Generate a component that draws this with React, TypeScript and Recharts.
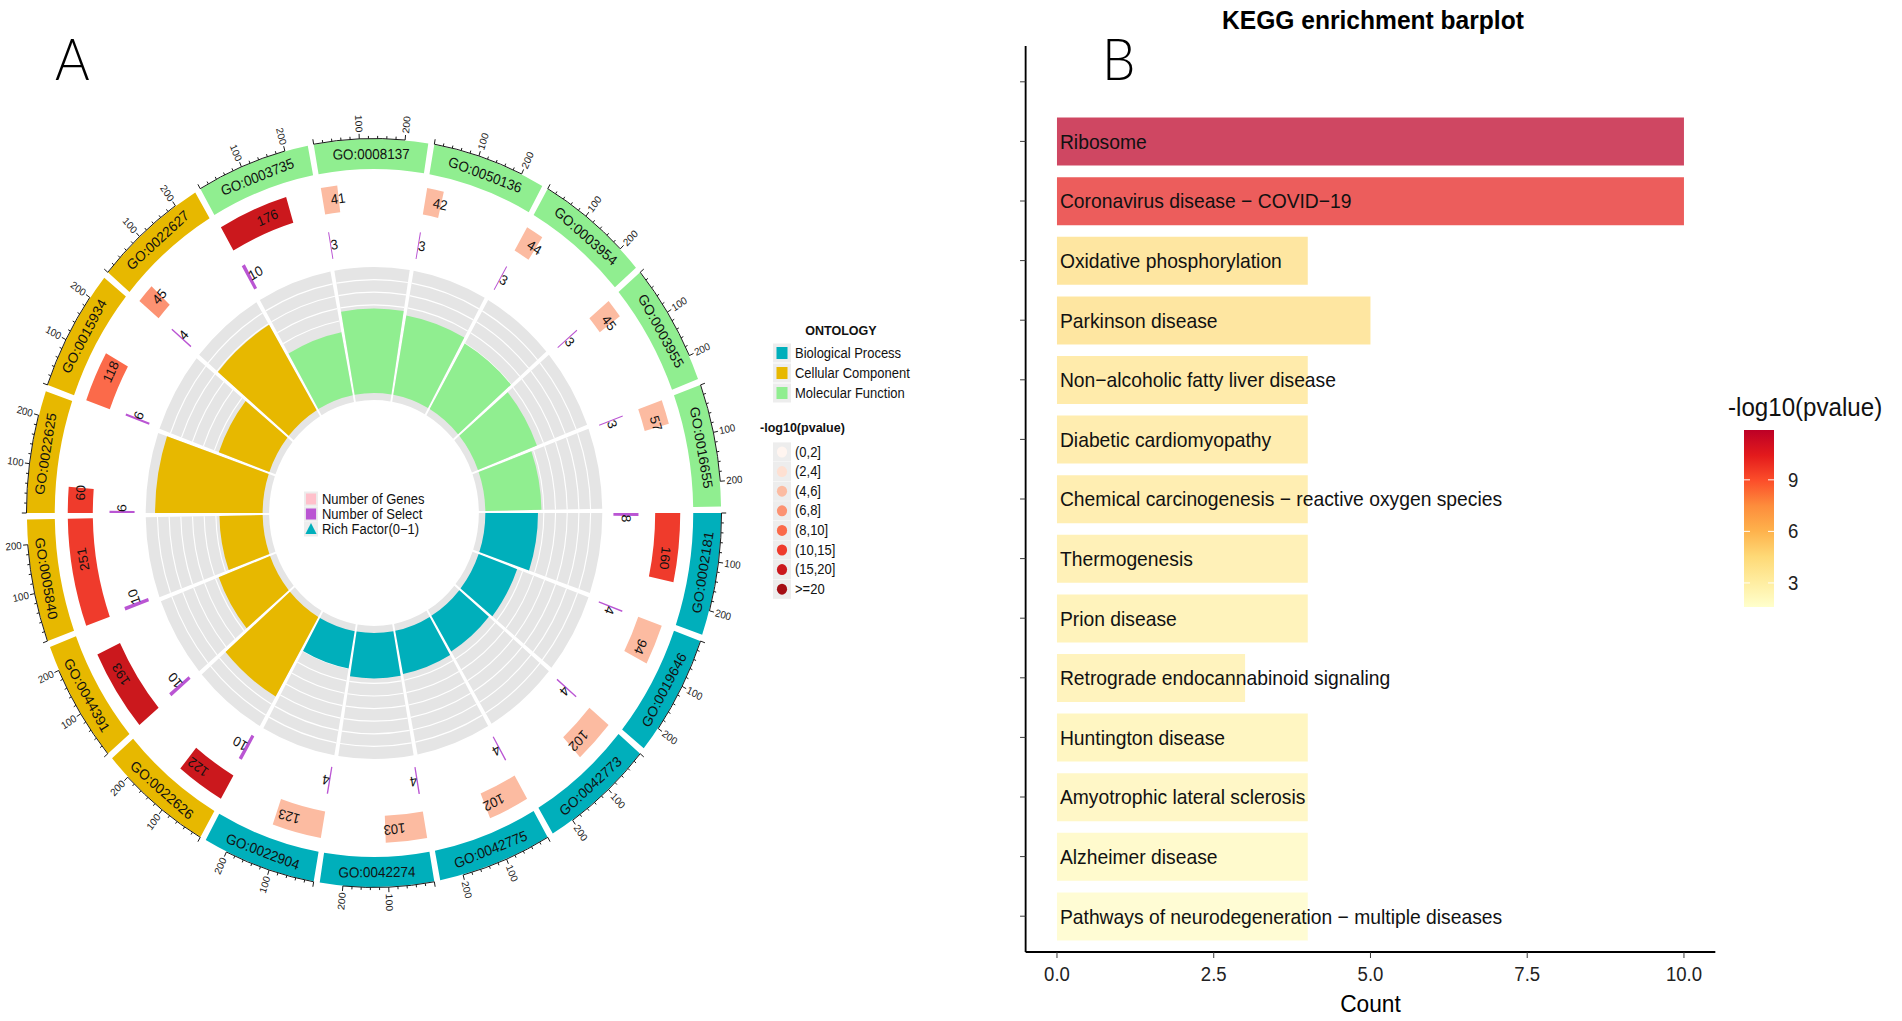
import React from "react";
import {
  Bar,
  BarChart,
  Cell,
  Label,
  LabelList,
  Pie,
  PieChart,
  XAxis,
  YAxis,
} from "recharts";

// the whole figure is squeezed horizontally, so draw wide and scale x
const SX = 0.928;
const px = (x: number) => x / SX;
const FONT = "'Liberation Sans', Arial, Helvetica, sans-serif";

// ---------- panel A: GO circle, sectors clockwise from 3 o'clock ----------
const goIds = [
  "GO:0002181", "GO:0019646", "GO:0042773", "GO:0042775", "GO:0042274", "GO:0022904",
  "GO:0022626", "GO:0044391", "GO:0005840", "GO:0022625", "GO:0015934", "GO:0022627",
  "GO:0003735", "GO:0008137", "GO:0050136", "GO:0003954", "GO:0003955", "GO:0016655",
];
const goOntology = [
  "BP", "BP", "BP", "BP", "BP", "BP",
  "CC", "CC", "CC", "CC", "CC", "CC",
  "MF", "MF", "MF", "MF", "MF", "MF",
];
const geneCounts = [160, 94, 102, 102, 103, 123, 122, 193, 251, 60, 118, 45, 176, 41, 42, 44, 45, 57];
const selectCounts = [8, 4, 4, 4, 4, 4, 10, 10, 10, 6, 6, 4, 10, 3, 3, 3, 3, 3];
const richFactor = [0.45, 0.35, 0.33, 0.35, 0.36, 0.3, 0.73, 0.47, 0.37, 0.92, 0.46, 0.79, 0.51, 0.67, 0.64, 0.6, 0.54, 0.48];
const goPClass = [
  "(10,15]", "(4,6]", "(4,6]", "(4,6]", "(4,6]", "(4,6]",
  "(15,20]", "(15,20]", "(10,15]", "(10,15]", "(8,10]", "(6,8]",
  "(15,20]", "(4,6]", "(4,6]", "(4,6]", "(4,6]", "(4,6]",
];

const ontologyKeys = ["BP", "CC", "MF"];
const ontologyLabels = ["Biological Process", "Cellular Component", "Molecular Function"];
const ontologyColors = ["#00AFBB", "#E7B800", "#90EE90"];
const pClassLabels = ["(0,2]", "(2,4]", "(4,6]", "(6,8]", "(8,10]", "(10,15]", "(15,20]", ">=20"];
const pClassColors = ["#FFF5F0", "#FEE0D2", "#FCBBA1", "#FC9272", "#FB6A4A", "#EF3B2C", "#CB181D", "#A50F15"];
const centerLegend = ["Number of Genes", "Number of Select", "Rich Factor(0\u22121)"];

const axisMax = 251; // every sector spans 0..251 genes
const axisTicks = [0, 20, 40, 60, 80, 100, 120, 140, 160, 180, 200];
const gridSteps = [1, 2, 3, 4, 5, 6, 7, 8, 9];

// ---------- panel B: KEGG barplot ----------
const keggTerms = [
  "",
  "Ribosome",
  "Coronavirus disease \u2212 COVID\u221219",
  "Oxidative phosphorylation",
  "Parkinson disease",
  "Non\u2212alcoholic fatty liver disease",
  "Diabetic cardiomyopathy",
  "Chemical carcinogenesis \u2212 reactive oxygen species",
  "Thermogenesis",
  "Prion disease",
  "Retrograde endocannabinoid signaling",
  "Huntington disease",
  "Amyotrophic lateral sclerosis",
  "Alzheimer disease",
  "Pathways of neurodegeneration \u2212 multiple diseases",
];
const keggCounts = [null, 10, 10, 4, 5, 4, 4, 4, 4, 4, 3, 4, 4, 4, 4];
const keggLogP = [null, 11.9, 10.3, 4.3, 4.3, 3.8, 3.6, 3.5, 3.2, 3.0, 2.9, 2.7, 2.5, 2.2, 1.9];
const countTicks = [0, 2.5, 5, 7.5, 10];
const colorbarTicks = [3, 6, 9];
const colorbarDomain = [1.6, 11.9];
const ylOrRd = ["#ffffcc", "#ffeda0", "#fed976", "#feb24c", "#fd8d3c", "#fc4e2a", "#e31a1c", "#bd0026"];

// ---------- geometry ----------
const CX = px(374);
const CY = 513;
const R_BAND = [344, 374];
const R_GENE = [303, 330];
const R_SEL = [258, 285];
const R_BG = [113, 246];
const R_RF0 = 120;
const RAD = Math.PI / 180;
const gapUnits = axisMax / 19; // 19 deg sector + 1 deg gap
const sectorUnits = axisMax + gapUnits;

const polar = (cx: number, cy: number, r: number, a: number) => ({
  x: cx + r * Math.cos(-a * RAD),
  y: cy + r * Math.sin(-a * RAD),
});
const norm = (a: number) => ((a % 360) + 360) % 360;

const bandData = goIds.flatMap(() => [{ v: axisMax }, { v: gapUnits }]);
const geneData = geneCounts.flatMap((g) => [{ v: g }, { v: sectorUnits - g }]);
const selectData = selectCounts.flatMap((s) => [{ v: s }, { v: sectorUnits - s }]);

const ontColor = (k: number) => ontologyColors[ontologyKeys.indexOf(goOntology[k])];
const pColor = (k: number) => pClassColors[pClassLabels.indexOf(goPClass[k])];

function hexRgb(h: string) {
  const n = parseInt(h.slice(1), 16);
  return [(n >> 16) & 255, (n >> 8) & 255, n & 255];
}
function ramp(v: number) {
  const t = Math.max(0, Math.min(1, (v - colorbarDomain[0]) / (colorbarDomain[1] - colorbarDomain[0])));
  const s = t * (ylOrRd.length - 1);
  const i = Math.min(Math.floor(s), ylOrRd.length - 2);
  const f = s - i;
  const a = hexRgb(ylOrRd[i]);
  const b = hexRgb(ylOrRd[i + 1]);
  const c = a.map((x, j) => Math.round(x + (b[j] - x) * f));
  return `rgb(${c[0]},${c[1]},${c[2]})`;
}

function bandLabel(p: any) {
  if (p.index % 2 === 1) return null;
  const k = p.index / 2;
  const { cx, cy, midAngle } = p;
  const span = p.percent * 360;
  const start = midAngle + span / 2;
  const per = -span / axisMax;
  const a = norm(midAngle);
  const lp = polar(cx, cy, (R_BAND[0] + R_BAND[1]) / 2, midAngle);
  const rot = a > 0 && a < 180 ? 90 - a : 270 - a;
  const r = R_BAND[1] + 0.5;
  const s = polar(cx, cy, r, start);
  const e = polar(cx, cy, r, start + per * axisTicks[axisTicks.length - 1]);
  return (
    <g key={`band-${k}`}>
      <text
        x={lp.x}
        y={lp.y}
        transform={`rotate(${rot} ${lp.x} ${lp.y})`}
        textAnchor="middle"
        dominantBaseline="central"
        fontSize={14.5}
        fontFamily={FONT}
        fill="#111"
      >
        {goIds[k]}
      </text>
      <path d={`M${s.x},${s.y} A${r},${r} 0 0 1 ${e.x},${e.y}`} fill="none" stroke="#111" strokeWidth={1} />
      {axisTicks.map((v) => {
        const ang = start + per * v;
        const major = v % 100 === 0;
        const t0 = polar(cx, cy, r, ang);
        const t1 = polar(cx, cy, r + (major ? 5 : 2.6), ang);
        let lab = null;
        if (major && v > 0) {
          const an = norm(ang);
          const right = Math.cos(an * RAD) >= 0;
          const q = polar(cx, cy, r + 6.5, ang);
          lab = (
            <text
              x={q.x}
              y={q.y}
              transform={`rotate(${right ? -an : 180 - an} ${q.x} ${q.y})`}
              textAnchor={right ? "start" : "end"}
              dominantBaseline="central"
              fontSize={10.5}
              fontFamily={FONT}
              fill="#222"
            >
              {v}
            </text>
          );
        }
        return (
          <g key={v}>
            <line x1={t0.x} y1={t0.y} x2={t1.x} y2={t1.y} stroke="#111" strokeWidth={1} />
            {lab}
          </g>
        );
      })}
    </g>
  );
}

function numberLabel(values: number[], r: number) {
  return (p: any) => {
    if (p.index % 2 === 1) return null;
    const k = p.index / 2;
    const q = polar(p.cx, p.cy, r, p.midAngle);
    return (
      <text
        key={`n-${k}`}
        x={q.x}
        y={q.y}
        transform={`rotate(${90 - p.midAngle} ${q.x} ${q.y})`}
        textAnchor="start"
        dominantBaseline="central"
        fontSize={14}
        fontFamily={FONT}
        fill="#111"
      >
        {values[k]}
      </text>
    );
  };
}

function termLabel(p: any) {
  if (!p.value) return null;
  return (
    <text
      x={p.x + 3.2}
      y={p.y + p.height / 2}
      dominantBaseline="central"
      fontSize={20.8}
      fontFamily={FONT}
      fill="#111"
    >
      {p.value}
    </text>
  );
}

const keggData = keggTerms.map((term, i) => ({
  term,
  count: keggCounts[i],
  logp: keggLogP[i],
}));

const cbTop = 430;
const cbBottom = 607;
const cbY = (v: number) =>
  cbBottom - ((v - colorbarDomain[0]) / (colorbarDomain[1] - colorbarDomain[0])) * (cbBottom - cbTop);

export default function App() {
  const ringProps = {
    dataKey: "v",
    cx: CX,
    cy: CY,
    startAngle: 0,
    endAngle: -360,
    stroke: "none",
    isAnimationActive: false,
    labelLine: false,
  };
  return (
    <div style={{ position: "fixed", left: 0, top: 0, width: 1902, height: 1021, overflow: "hidden", background: "#fff" }}>
      <div
        style={{
          position: "absolute",
          left: 0,
          top: 0,
          width: px(1902),
          height: 1021,
          transform: `scaleX(${SX})`,
          transformOrigin: "0 0",
          fontFamily: FONT,
        }}
      >
        <div style={{ position: "absolute", left: 0, top: 0 }}>
          <PieChart width={820} height={1021} margin={{ top: 0, right: 0, bottom: 0, left: 0 }}>
            <Pie {...ringProps} data={bandData} innerRadius={R_BG[0]} outerRadius={R_BG[1]}>
              {bandData.map((_, i) => (
                <Cell key={i} fill={i % 2 ? "transparent" : "#E5E5E5"} />
              ))}
            </Pie>
            {gridSteps.map((j) => (
              <Pie
                key={`grid-${j}`}
                {...ringProps}
                data={bandData}
                innerRadius={R_RF0 + ((R_BG[1] - R_RF0) * j) / 10 - 0.6}
                outerRadius={R_RF0 + ((R_BG[1] - R_RF0) * j) / 10 + 0.6}
              >
                {bandData.map((_, i) => (
                  <Cell key={i} fill={i % 2 ? "transparent" : "#FFFFFF"} />
                ))}
              </Pie>
            ))}
            {goIds.map((id, k) => (
              <Pie
                key={`rf-${id}`}
                {...ringProps}
                data={[{ v: k * sectorUnits }, { v: axisMax }, { v: (goIds.length - k) * sectorUnits - axisMax }]}
                innerRadius={R_RF0}
                outerRadius={R_RF0 + richFactor[k] * (R_BG[1] - R_RF0)}
              >
                <Cell fill="transparent" />
                <Cell fill={ontColor(k)} />
                <Cell fill="transparent" />
              </Pie>
            ))}
            <Pie
              {...ringProps}
              data={selectData}
              innerRadius={R_SEL[0]}
              outerRadius={R_SEL[1]}
              label={numberLabel(selectCounts, (R_SEL[0] + R_SEL[1]) / 2)}
            >
              {selectData.map((_, i) => (
                <Cell key={i} fill={i % 2 ? "transparent" : "#BA55D3"} />
              ))}
            </Pie>
            <Pie
              {...ringProps}
              data={geneData}
              innerRadius={R_GENE[0]}
              outerRadius={R_GENE[1]}
              label={numberLabel(geneCounts, (R_GENE[0] + R_GENE[1]) / 2)}
            >
              {geneData.map((_, i) => (
                <Cell key={i} fill={i % 2 ? "transparent" : pColor(i / 2)} />
              ))}
            </Pie>
            <Pie {...ringProps} data={bandData} innerRadius={R_BAND[0]} outerRadius={R_BAND[1]} label={bandLabel}>
              {bandData.map((_, i) => (
                <Cell key={i} fill={i % 2 ? "transparent" : ontColor(Math.floor(i / 2))} />
              ))}
            </Pie>
          </PieChart>
        </div>

        <div style={{ position: "absolute", left: 1000, top: 0 }}>
          <BarChart
            width={900}
            height={1021}
            data={keggData}
            layout="vertical"
            margin={{ top: 46, right: 51.6, bottom: 0, left: 0 }}
          >
            <XAxis
              type="number"
              domain={[-0.5, 10.5]}
              ticks={countTicks}
              tickFormatter={(v: number) => v.toFixed(1)}
              height={69}
              tickSize={6}
              tickMargin={9}
              tick={{ fontSize: 20, fill: "#222", fontFamily: FONT }}
              tickLine={{ stroke: "#333" }}
              axisLine={{ stroke: "#000", strokeWidth: 2 }}
            >
              <Label value="Count" position="insideBottom" offset={9} style={{ fontSize: 24.5, fill: "#000", fontFamily: FONT }} />
            </XAxis>
            <YAxis
              type="category"
              dataKey="term"
              width={105.2}
              padding={{ top: 6, bottom: 6 }}
              tickFormatter={() => ""}
              tickSize={6}
              tickLine={{ stroke: "#333" }}
              axisLine={{ stroke: "#000", strokeWidth: 2 }}
            />
            <Bar dataKey="count" barSize={48} isAnimationActive={false}>
              {keggData.map((d, i) => (
                <Cell key={i} fill={d.logp == null ? "transparent" : ramp(d.logp)} fillOpacity={0.72} />
              ))}
              <LabelList dataKey="term" content={termLabel} />
            </Bar>
          </BarChart>
        </div>

        <svg width={px(1902)} height={1021} style={{ position: "absolute", left: 0, top: 0, pointerEvents: "none" }}>
          <defs>
            <linearGradient id="cb" x1="0" y1="1" x2="0" y2="0">
              {ylOrRd.map((c, i) => (
                <stop key={c} offset={i / (ylOrRd.length - 1)} stopColor={c} />
              ))}
            </linearGradient>
          </defs>
          <g fontFamily="Lato, 'Open Sans', sans-serif" fontWeight={300} fontSize={57} fill="#000">
            <text x={px(55)} y={80}>A</text>
            <text x={px(1102)} y={80}>B</text>
          </g>
          <text x={px(1373)} y={29} textAnchor="middle" fontSize={26.5} fontWeight="bold" fontFamily={FONT}>
            KEGG enrichment barplot
          </text>

          {/* legend in the middle of the circle */}
          <g fontFamily={FONT} fontSize={14} fill="#111">
            {centerLegend.map((t, i) => {
              const y = 499 + i * 15;
              const kx = px(311);
              return (
                <g key={t}>
                  <rect x={kx - 7.5} y={y - 7.5} width={15} height={15} fill="#EDEDED" />
                  {i === 0 && <rect x={kx - 5.5} y={y - 5.5} width={11} height={11} fill="#FFC0CB" />}
                  {i === 1 && <rect x={kx - 5.5} y={y - 5.5} width={11} height={11} fill="#BA55D3" />}
                  {i === 2 && <path d={`M${kx - 6},${y + 5} L${kx + 6},${y + 5} L${kx},${y - 6} Z`} fill="#00AFBB" />}
                  <text x={px(322)} y={y} dominantBaseline="central">{t}</text>
                </g>
              );
            })}
          </g>

          {/* ontology and p-value legends */}
          <g fontFamily={FONT} fontSize={14} fill="#111">
            <text x={px(841)} y={330} textAnchor="middle" dominantBaseline="central" fontWeight="bold" fontSize={13.5}>ONTOLOGY</text>
            {ontologyLabels.map((t, i) => {
              const y = 353 + i * 20;
              return (
                <g key={t}>
                  <rect x={px(773)} y={y - 9.5} width={px(18)} height={19} fill="#EDEDED" />
                  <rect x={px(776.5)} y={y - 6} width={px(11)} height={12} fill={ontologyColors[i]} />
                  <text x={px(795)} y={y} dominantBaseline="central">{t}</text>
                </g>
              );
            })}
            <text x={px(760)} y={427} dominantBaseline="central" fontWeight="bold" fontSize={13.5}>-log10(pvalue)</text>
            {pClassLabels.map((t, i) => {
              const y = 452 + i * 19.6;
              return (
                <g key={t}>
                  <rect x={px(773)} y={y - 9.6} width={px(18)} height={19.2} fill="#EDEDED" />
                  <circle cx={px(782)} cy={y} r={5.5} fill={pClassColors[i]} />
                  <text x={px(795)} y={y} dominantBaseline="central">{t}</text>
                </g>
              );
            })}
          </g>

          {/* colour bar of panel B */}
          <g fontFamily={FONT}>
            <text x={px(1728)} y={416} fontSize={26} fill="#111">-log10(pvalue)</text>
            <rect x={px(1744)} y={cbTop} width={px(30)} height={cbBottom - cbTop} fill="url(#cb)" />
            {colorbarTicks.map((v) => (
              <g key={v}>
                <line x1={px(1744)} x2={px(1750)} y1={cbY(v)} y2={cbY(v)} stroke="#fff" strokeWidth={1} />
                <line x1={px(1768)} x2={px(1774)} y1={cbY(v)} y2={cbY(v)} stroke="#fff" strokeWidth={1} />
                <text x={px(1788)} y={cbY(v)} fontSize={20} fill="#222" dominantBaseline="central">{v}</text>
              </g>
            ))}
          </g>
        </svg>
      </div>
    </div>
  );
}
